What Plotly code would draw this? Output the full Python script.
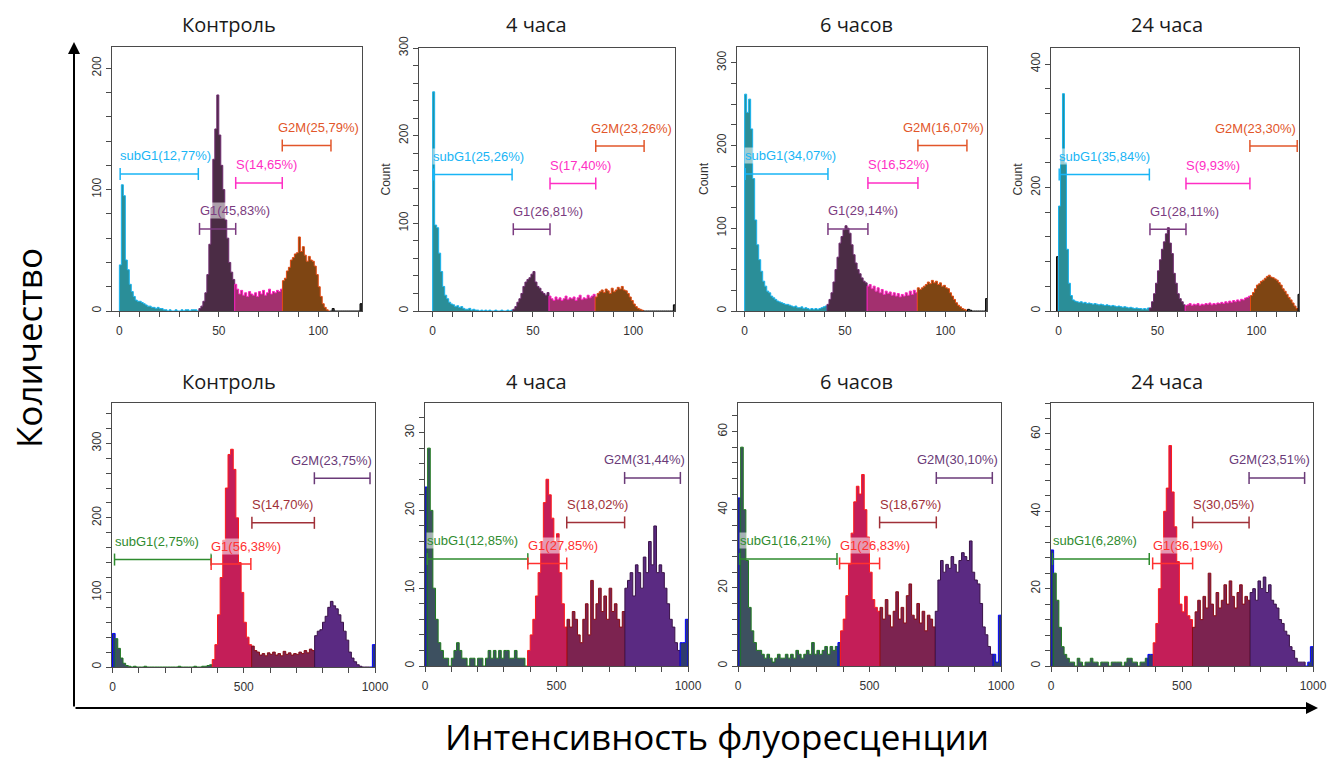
import plotly.graph_objects as go

W, H = 1330, 761

# ---------------- DNA-content histograms ----------------
# Top row: 1-unit channels; counts listed from channel `start`.
top_start = [0, 0, 0, -1]

top_control = [
    38, 104, 95, 42, 34, 22, 16, 12, 9, 8,
    8, 7, 6, 5, 4, 4, 3, 3, 2, 3,
    2, 2, 1, 1, 0, 1, 0, 0, 1, 0,
    0, 1, 0, 1, 1, 0, 1, 1, 1, 0,
    2, 4, 8, 15, 30, 55, 85, 125, 150, 178,
    145, 120, 100, 75, 60, 40, 32, 26, 22, 18,
    14, 17, 13, 15, 12, 16, 14, 13, 15, 12,
    16, 14, 17, 13, 15, 18, 14, 16, 15, 17,
    16, 18, 25, 27, 33, 36, 42, 44, 47, 48,
    61, 49, 53, 46, 41, 45, 42, 41, 37, 30,
    20, 12, 6, 3, 1, 0, 0, 2, 0, 0,
    0, 0, 0, 0, 0, 0, 0, 0, 0, 0,
    0, 6,
]

top_4h = [
    250, 98, 95, 66, 45, 28, 18, 14, 10, 8,
    7, 5, 6, 4, 5, 3, 2, 2, 3, 1,
    2, 1, 1, 0, 1, 0, 1, 0, 1, 0,
    0, 1, 0, 0, 1, 0, 0, 1, 0, 1,
    2, 5, 10, 14, 20, 28, 33, 36, 38, 42,
    45, 33, 28, 26, 22, 20, 18, 21, 17, 14,
    12, 16, 13, 15, 12, 14, 17, 13, 15, 14,
    16, 12, 15, 18, 13, 15, 14, 18, 15, 17,
    19, 16, 20, 22, 24, 21, 25, 23, 20, 26,
    22, 24, 27, 25, 28, 24, 23, 20, 16, 12,
    8, 5, 3, 2, 1, 0, 0, 0, 0, 0,
    0, 0, 0, 0, 0, 0, 0, 0, 0, 0,
    7,
]

top_6h = [
    262, 240, 256, 220, 160, 110, 80, 62, 48, 36,
    30, 24, 22, 18, 16, 14, 12, 11, 10, 9,
    8, 8, 7, 6, 5, 6, 4, 4, 5, 3,
    4, 3, 2, 3, 2, 3, 2, 3, 4, 5,
    6, 8, 14, 22, 35, 50, 65, 82, 90, 98,
    103, 100, 94, 80, 68, 58, 50, 45, 40, 36,
    34, 30, 32, 27, 30, 24, 28, 22, 26, 20,
    24, 21, 23, 19, 22, 18, 21, 17, 20, 18,
    22, 19, 24, 20, 25, 22, 28, 26, 28, 30,
    32, 35, 33, 37, 34, 36, 32, 34, 30, 31,
    28, 27, 22, 18, 14, 10, 7, 5, 3, 2,
    1, 2, 1, 0, 0, 0, 0, 0, 0, 0,
    15,
]

top_24h = [
    88,
    170, 250, 352, 240, 100, 45, 25, 18, 16, 15,
    14, 15, 13, 14, 12, 13, 12, 11, 12, 11,
    10, 11, 10, 9, 10, 9, 8, 9, 8, 7,
    8, 7, 6, 7, 6, 5, 6, 5, 4, 5,
    4, 4, 3, 4, 3, 5, 5, 15, 28, 45,
    65, 83, 100, 112, 125, 135, 110, 93, 61, 45,
    28, 20, 15, 10, 9, 10, 12, 9, 11, 10,
    12, 9, 11, 10, 12, 11, 13, 10, 12, 11,
    13, 12, 14, 12, 15, 13, 16, 14, 17, 15,
    18, 16, 19, 18, 21, 22, 24, 25, 30, 36,
    42, 44, 48, 50, 53, 56, 58, 55, 54, 52,
    50, 46, 42, 36, 32, 27, 22, 18, 13, 8,
    4, 27,
]

# Bottom row: 10-unit channels starting at 0.
bottom_bin = 10

bottom_control = [
    45, 38, 25, 12, 5, 2, 1, 0, 1, 0,
    0, 0, 1, 0, 0, 0, 0, 0, 0, 0,
    0, 0, 0, 0, 0, 1, 0, 0, 0, 0,
    0, 1, 0, 0, 1, 1, 2, 3, 10, 30,
    70, 120, 170, 240, 285, 292, 265, 200, 140, 100,
    60, 40, 30, 28, 22, 20, 16, 18, 15, 19,
    17, 20, 16, 18, 15, 21, 17, 19, 16, 18,
    17, 20, 18, 22, 19, 24, 22, 42, 48, 50,
    60, 68, 80, 88, 82, 78, 70, 60, 48, 36,
    20, 12, 7, 3, 1, 0, 0, 0, 0, 30,
]

bottom_4h = [
    23, 28, 20, 10, 6, 3, 2, 1, 1, 0,
    1, 2, 3, 2, 1, 1, 0, 1, 1, 0,
    1, 1, 0, 1, 2, 1, 2, 1, 2, 1,
    2, 2, 1, 1, 2, 1, 1, 1, 0, 2,
    4, 6, 9, 12, 16, 21, 24, 22, 19, 16,
    17, 12, 8, 5, 6, 5, 7, 6, 4, 3,
    6, 8, 4, 11, 6, 8, 10, 7, 9, 6,
    10, 7, 8, 6, 5, 7, 10, 11, 12, 9,
    13, 12, 10, 14, 12, 16, 13, 18, 12, 13,
    12, 10, 8, 6, 5, 3, 2, 3, 3, 6,
]

bottom_6h = [
    43, 56, 40, 27, 15, 9, 6, 4, 4, 3,
    2, 3, 2, 1, 2, 3, 2, 2, 3, 2,
    3, 2, 4, 3, 2, 3, 4, 3, 6, 3,
    4, 3, 4, 5, 3, 5, 4, 5, 6, 9,
    12, 18, 26, 34, 42, 46, 44, 49, 40, 33,
    24, 17, 15, 14, 15, 12, 17, 13, 10, 14,
    19, 12, 15, 11, 18, 21, 13, 12, 16, 11,
    14, 9, 13, 12, 10, 14, 22, 27, 24, 26,
    25, 28, 26, 24, 27, 29, 28, 27, 32, 24,
    22, 21, 16, 10, 8, 5, 3, 3, 1, 13,
]

bottom_24h = [
    30, 24, 17, 10, 5, 3, 2, 1, 1, 0,
    2, 1, 0, 1, 1, 2, 1, 1, 0, 1,
    1, 1, 0, 1, 1, 1, 1, 0, 1, 2,
    2, 1, 1, 0, 1, 1, 2, 3, 3, 6,
    11, 20, 30, 40, 46, 57, 45, 36, 27, 16,
    14, 18, 13, 12, 10, 14, 17, 12, 18, 15,
    24, 16, 13, 19, 15, 17, 21, 16, 22, 18,
    15, 19, 21, 16, 18, 17, 19, 20, 17, 22,
    20, 23, 19, 21, 17, 16, 15, 12, 11, 9,
    8, 5, 4, 2, 1, 1, 1, 0, 1, 5,
]

# ---------------- gates (channel ranges) and their percentages ----------------
gate_names = ["subG1", "G1", "S", "G2M"]

gates_top_control = [(0.4, 39.7), (40.3, 58.5), (58.5, 81.9), (81.9, 106.4)]
gates_top_4h = [(0.3, 39.6), (40.2, 58.5), (58.5, 81.3), (81.3, 105.4)]
gates_top_6h = [(0.3, 41.5), (41.5, 61.4), (61.4, 86.3), (86.3, 110.7)]
gates_top_24h = [(0.35, 45.9), (46.2, 64.4), (64.4, 96.7), (96.7, 120.6)]
gates_bottom_control = [(7.6, 375.7), (375.7, 527), (531, 769), (769, 981)]
gates_bottom_4h = [(8.9, 391), (391, 539), (539, 759), (759, 971)]
gates_bottom_6h = [(6, 376.4), (386.3, 538.4), (538.4, 754), (754, 967)]
gates_bottom_24h = [(6, 375), (388, 540.6), (540.6, 756), (756, 968)]

pct_top_control = [12.77, 45.83, 14.65, 25.79]
pct_top_4h = [25.26, 26.81, 17.40, 23.26]
pct_top_6h = [34.07, 29.14, 16.52, 16.07]
pct_top_24h = [35.84, 28.11, 9.93, 23.30]
pct_bottom_control = [2.75, 56.38, 14.70, 23.75]
pct_bottom_4h = [12.85, 27.85, 18.02, 31.44]
pct_bottom_6h = [16.21, 26.83, 18.67, 30.10]
pct_bottom_24h = [6.28, 36.19, 30.05, 23.51]

titles = ["Контроль", "4 часа", "6 часов", "24 часа"]

# ---------------- styling ----------------
TOP_STYLE = dict(
    fill=["#2a8e98", "#4b2c45", "#a3306f", "#7e4513"],
    line=["#17b3ee", "#6e2a6e", "#ff1fc0", "#e24a12"],
    label=["#19b5f5", "#7b3b80", "#ff2ec4", "#e2562a"],
    out_fill="#444444", out_line="#000000",
    bar_y=[0.519, 0.311, 0.485, 0.627],
)
BOTTOM_STYLE = dict(
    fill=["#3d5060", "#c41e58", "#7c2350", "#5a2a82"],
    line=["#1f7a1f", "#ff1a1a", "#8a0c14", "#3a1248"],
    label=["#2e8b2e", "#ff3030", "#a03038", "#6a3a78"],
    out_fill="#2e3b6e", out_line="#0000ff",
    bar_y=[0.407, 0.390, 0.546, 0.715],
)

# panel boxes in pixels (left, right, top, bottom), axis ranges and ticks
panels = [
    dict(box=(112, 362, 47, 311), xr=(-3.7, 122), yr=217.5, ydt=100, ymin=20, title_y=False),
    dict(box=(419, 675, 48, 311), xr=(-6.8, 120.8), yr=300, ydt=100, ymin=20, title_y=True),
    dict(box=(737, 987, 47, 311), xr=(-3.8, 120.7), yr=319, ydt=100, ymin=25, title_y=True),
    dict(box=(1051, 1299, 48, 311), xr=(-3.8, 121.5), yr=426, ydt=200, ymin=40, title_y=True),
    dict(box=(112, 375, 403, 667), xr=(-2, 1000), yr=354, ydt=100, ymin=20, title_y=False),
    dict(box=(425, 688, 403, 666), xr=(0, 1000), yr=33.8, ydt=10, ymin=2, title_y=False),
    dict(box=(738, 1001, 403, 666), xr=(0, 1000), yr=67.3, ydt=20, ymin=4, title_y=False),
    dict(box=(1051, 1313, 403, 666), xr=(0, 1000), yr=68, ydt=20, ymin=4, title_y=False),
]

datasets = [
    (top_control, top_start[0], 1, gates_top_control, pct_top_control, TOP_STYLE),
    (top_4h, top_start[1], 1, gates_top_4h, pct_top_4h, TOP_STYLE),
    (top_6h, top_start[2], 1, gates_top_6h, pct_top_6h, TOP_STYLE),
    (top_24h, top_start[3], 1, gates_top_24h, pct_top_24h, TOP_STYLE),
    (bottom_control, 0, bottom_bin, gates_bottom_control, pct_bottom_control, BOTTOM_STYLE),
    (bottom_4h, 0, bottom_bin, gates_bottom_4h, pct_bottom_4h, BOTTOM_STYLE),
    (bottom_6h, 0, bottom_bin, gates_bottom_6h, pct_bottom_6h, BOTTOM_STYLE),
    (bottom_24h, 0, bottom_bin, gates_bottom_24h, pct_bottom_24h, BOTTOM_STYLE),
]

AX_COLOR = "#4a4a4a"
TICK_FONT = dict(family="Liberation Sans, Arial, sans-serif", size=12, color="#333333")
LABEL_FONT = "Liberation Sans, Arial, sans-serif"


def split_runs(counts, start, width, gates):
    """Group consecutive channels by the gate their centre falls in (-1 = ungated)."""
    runs = []
    for i, c in enumerate(counts):
        left = start + i * width
        centre = left + width / 2
        region = -1
        for k, (lo, hi) in enumerate(gates):
            if lo <= centre < hi:
                region = k
                break
        if runs and runs[-1][0] == region:
            runs[-1][1].append((left, c))
        else:
            runs.append([region, [(left, c)]])
    return runs


fig = go.Figure()
layout = dict(shapes=[], annotations=[])

for n, (panel, (counts, start, width, gates, pcts, style)) in enumerate(zip(panels, datasets), start=1):
    sfx = "" if n == 1 else str(n)
    xa, ya = "x" + sfx, "y" + sfx
    for region, bins in split_runs(counts, start, width, gates):
        lefts = [b[0] for b in bins]
        vals = [b[1] for b in bins]
        end = lefts[-1] + width
        xs = [lefts[0]] + lefts + [end, end]
        ys = [0] + vals + [vals[-1], 0]
        if region >= 0:
            fc, lc = style["fill"][region], style["line"][region]
        else:
            fc, lc = style["out_fill"], style["out_line"]
        fig.add_trace(go.Scatter(
            x=xs, y=ys, mode="lines", line=dict(shape="hv", width=1, color=lc),
            fill="tozeroy", fillcolor=fc, xaxis=xa, yaxis=ya,
            hoverinfo="skip", showlegend=False,
        ))

    x0, x1, y0, y1 = panel["box"]
    is_top = n <= 4
    xaxis = dict(
        domain=[x0 / W, x1 / W], range=list(panel["xr"]), anchor=ya,
        showline=True, linecolor=AX_COLOR, linewidth=1, mirror=True,
        ticks="outside", ticklen=5, tickcolor=AX_COLOR, showgrid=False, zeroline=False,
        tick0=0, dtick=50 if is_top else 500, tickfont=TICK_FONT, ticklabelstandoff=4,
        minor=dict(dtick=10 if is_top else 100, ticks="outside", ticklen=5, tickcolor=AX_COLOR, showgrid=False),
        fixedrange=True, automargin=False,
    )
    yaxis = dict(
        domain=[1 - y1 / H, 1 - y0 / H], range=[0, panel["yr"]], anchor=xa,
        showline=True, linecolor=AX_COLOR, linewidth=1, mirror=True,
        ticks="outside", ticklen=5, tickcolor=AX_COLOR, showgrid=False, zeroline=False,
        tick0=0, dtick=panel["ydt"], tickangle=-90, tickfont=TICK_FONT,
        minor=dict(dtick=panel["ymin"], ticks="outside", ticklen=5, tickcolor=AX_COLOR, showgrid=False),
        fixedrange=True, automargin=False,
    )
    if panel["title_y"]:
        yaxis["title"] = dict(text="Count", font=dict(family=LABEL_FONT, size=12, color="#333333"), standoff=4)
    layout["xaxis" + sfx] = xaxis
    layout["yaxis" + sfx] = yaxis

    # gate markers: horizontal bar with end caps and a percentage label
    cap = 6 / (y1 - y0)
    for k, (lo, hi) in enumerate(gates):
        yb = style["bar_y"][k]
        col = style["label"][k]
        seg = dict(type="line", xref=xa, yref=f"{ya} domain", line=dict(color=col, width=1.5))
        layout["shapes"].append(dict(seg, x0=lo, x1=hi, y0=yb, y1=yb))
        for xe in (lo, hi):
            layout["shapes"].append(dict(seg, x0=xe, x1=xe, y0=yb - cap, y1=yb + cap))
        text = f"{gate_names[k]}({pcts[k]:.2f}%)".replace(".", ",")
        ann = dict(text=text, y=yb, yref=f"{ya} domain", yshift=18, yanchor="middle",
                   showarrow=False, font=dict(family=LABEL_FONT, size=13, color=col),
                   bgcolor="rgba(255,255,255,0.55)", borderpad=0)
        if k == 3:
            ann.update(x=1, xref=f"{xa} domain", xanchor="right", xshift=-2)
        else:
            ann.update(x=lo, xref=xa, xanchor="left", xshift=-1)
        layout["annotations"].append(ann)

# panel titles
title_x = [229, 536, 856, 1167]
for row_y in (25, 381):
    for tx, t in zip(title_x, titles):
        layout["annotations"].append(dict(
            text=t, x=tx / W, y=1 - row_y / H, xref="paper", yref="paper",
            xanchor="center", yanchor="middle", showarrow=False,
            font=dict(family="Open Sans, sans-serif", size=20, color="#1a1a1a"),
        ))

# common axis arrows
corner_x, corner_y = 74, 708
layout["annotations"].append(dict(
    x=corner_x / W, y=1 - 42 / H, xref="paper", yref="paper", text="",
    showarrow=True, ax=0, ay=corner_y - 42, arrowhead=2, arrowsize=1.2, arrowwidth=2, arrowcolor="#000000",
))
layout["annotations"].append(dict(
    x=1318 / W, y=1 - corner_y / H, xref="paper", yref="paper", text="",
    showarrow=True, ax=-(1318 - corner_x), ay=0, arrowhead=2, arrowsize=1.2, arrowwidth=2, arrowcolor="#000000",
))

# common axis titles
layout["annotations"].append(dict(
    text="Количество", x=28 / W, y=1 - 348 / H, xref="paper", yref="paper",
    textangle=-90, showarrow=False, xanchor="center", yanchor="middle",
    font=dict(family="Open Sans, sans-serif", size=35, color="#000000"),
))
layout["annotations"].append(dict(
    text="Интенсивность флуоресценции", x=717 / W, y=0, xref="paper", yref="paper",
    showarrow=False, xanchor="center", yanchor="bottom", borderpad=0,
    font=dict(family="Open Sans, sans-serif", size=35, color="#000000"),
))

fig.update_layout(
    width=W, height=H, margin=dict(l=0, r=0, t=0, b=0, pad=0, autoexpand=False),
    paper_bgcolor="white", plot_bgcolor="white", showlegend=False,
    **layout,
)

fig.write_html("out.html")
